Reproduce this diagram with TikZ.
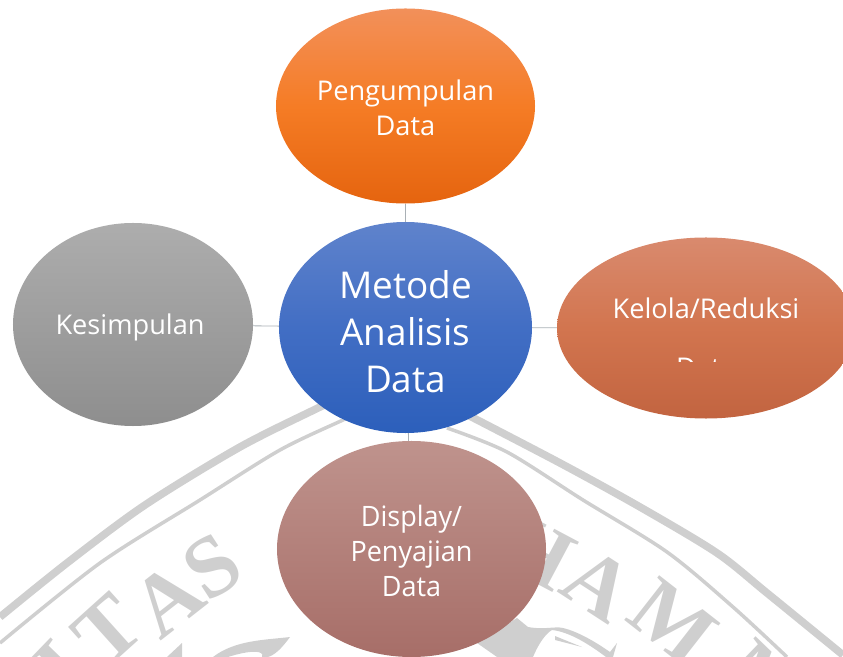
\documentclass[tikz,border=0pt]{standalone}
\usepackage{fontspec}
\setmainfont{Open Sans}
\newfontfamily\sealfont{Liberation Serif}
\newfontfamily\narrowfont[FakeStretch=0.96]{Open Sans}
\usetikzlibrary{shapes.geometric}
\definecolor{sealgray}{HTML}{CFCFCF}
\definecolor{spokegray}{HTML}{A9B0B5}
\newcommand{\drop}[1]{\rule{0pt}{#1}}

\begin{document}
\begin{tikzpicture}
[x=0.03cm, y=-0.03cm,
 round/.style={ellipse, inner sep=0pt, align=center, text=white, font=\fontsize{23.2}{30}\selectfont},
 seal/.style={color=sealgray, font=\sealfont\bfseries\fontsize{74}{74}\selectfont},
 spoke/.style={draw=spokegray, line width=0.7pt},
 fillorange/.style={top color={rgb,255:red,242;green,144;blue,90}, bottom color={rgb,255:red,229;green,100;blue,15}, middle color={rgb,255:red,245;green,124;blue,37}},
 fillblue/.style={top color={rgb,255:red,95;green,131;blue,204}, bottom color={rgb,255:red,44;green,95;blue,187}, middle color={rgb,255:red,66;green,110;blue,196}},
 fillgray/.style={top color={rgb,255:red,173;green,173;blue,173}, bottom color={rgb,255:red,142;green,142;blue,142}},
 fillclay/.style={top color={rgb,255:red,217;green,138;blue,110}, bottom color={rgb,255:red,194;green,100;blue,64}, middle color={rgb,255:red,210;green,117;blue,79}},
 fillrose/.style={top color={rgb,255:red,191;green,147;blue,141}, bottom color={rgb,255:red,167;green,110;blue,104}}]
    \useasboundingbox (0,0) rectangle (843,657);
    % watermark
    \draw[sealgray, line width=6.5pt] plot[smooth] coordinates {(0,617) (67,563) (145,505) (240,447) (320,407) (345,395)};
    \draw[sealgray, line width=3pt] plot[smooth] coordinates {(0,643) (100,563) (200,500) (280,450) (343,420) (360,412)};
    \draw[sealgray, line width=6.5pt] plot[smooth] coordinates {(460,411) (560,463) (640,507) (717,553) (767,593) (843,655)};
    \draw[sealgray, line width=3pt] plot[smooth] coordinates {(447,428) (507,452) (583,500) (667,552) (733,607) (787,657)};
    \node[seal, rotate=46] (I1) at (62,668) {I};
    \node[seal, rotate=42] (T1) at (108,630) {T};
    \node[seal, rotate=38] (A1) at (168,600) {A};
    \node[seal, rotate=33] (S1) at (212,567) {S};
    \node[seal, rotate=-28] (H2) at (538,552) {H};
    \node[seal, rotate=-33] (A2) at (598,585) {A};
    \node[seal, rotate=-38] (M2) at (673,622) {M};
    \node[seal, rotate=-44] (M3) at (765,684) {M};
    \fill[sealgray] (213,657) .. controls (235,640) and (265,640) .. (290,637) .. controls (282,648) and (275,655) .. (268,657) -- (262,657) .. controls (265,650) and (250,650) .. (228,657) -- cycle;
    \fill[sealgray] (167,657) -- (182,643) -- (182,657) -- cycle;
    \fill[sealgray] (477,643) -- (517,618) -- (528,627) .. controls (545,630) and (555,626) .. (563,628) .. controls (580,632) and (600,645) .. (610,652) -- (617,643) -- (613,657) -- (606,657) .. controls (590,645) and (570,632) .. (552,630) .. controls (545,634) and (538,645) .. (533,657) -- (497,657) -- cycle;
    \fill[sealgray] (555,636) -- (582,647) -- (555,640) -- cycle;
    % nodes
    \node[round, fillorange, minimum width=7.77cm, minimum height=5.85cm] (P) at (405.5,106) {\drop{21pt}Pengumpulan\\Data};
    \node[round, fillblue, minimum width=7.59cm, minimum height=6.33cm, font=\fontsize{31.5}{40}\selectfont] (M) at (405.5,327.5) {\drop{31.5pt}Metode\\Analisis\\Data};
    \node[round, fillgray, minimum width=7.2cm, minimum height=6.09cm] (K) at (133,324.5) {\drop{23pt}Kesimpulan\hspace{5pt}};
    \node[round, fillclay, minimum width=8.94cm, minimum height=5.43cm] (R) at (706,328) {};
    \node[text=white, font=\fontsize{23.2}{30}\selectfont, anchor=base] (R1) at (706,319) {Kelola/Reduksi};
    \begin{scope}
        \clip (640,340) rectangle (780,361.5);
        \node[text=white, font=\fontsize{23.2}{30}\selectfont, anchor=base] (R2) at (706,378) {Data};
    \end{scope}
    \node[round, fillrose, minimum width=8.07cm, minimum height=6.48cm, font=\narrowfont\fontsize{24}{29.7}\selectfont] (D) at (411.5,549) {\drop{22pt}Display/\\Penyajian\\Data};
    % connectors
    \draw[spoke] (P) -- (M);
    \draw[spoke] (K) -- (M);
    \draw[spoke] (M) -- (R);
    \draw[spoke] (M) -- (D);
\end{tikzpicture}
\end{document}
